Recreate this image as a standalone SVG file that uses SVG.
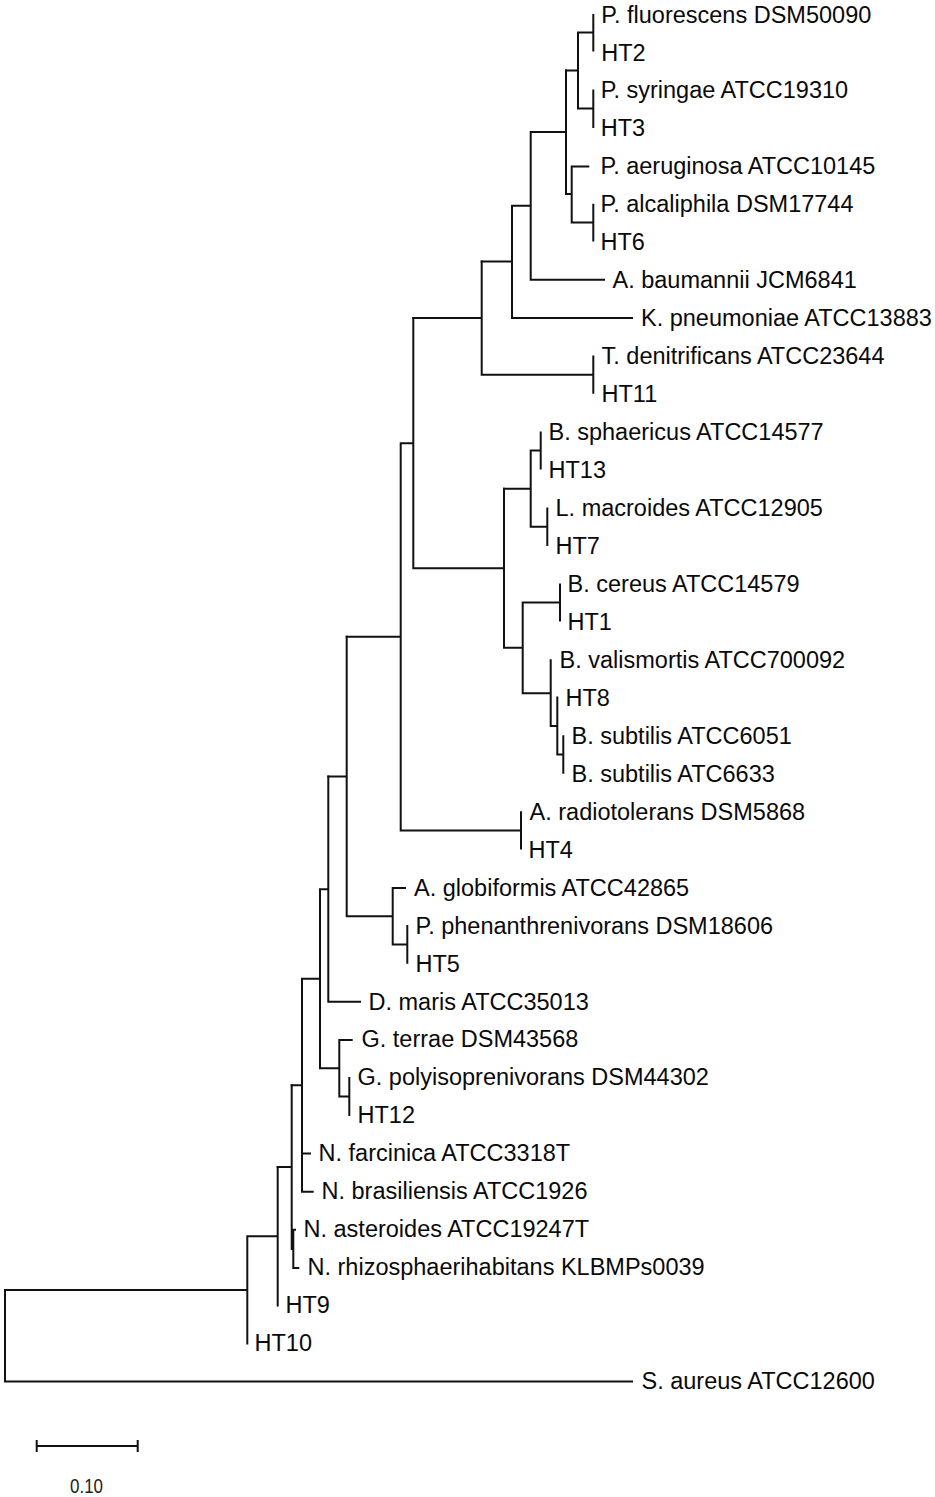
<svg xmlns="http://www.w3.org/2000/svg" width="935" height="1497" viewBox="0 0 935 1497">
<style>
.br{stroke:#111;stroke-width:2;fill:none;stroke-linecap:square}
.lb{font-family:"Liberation Sans",Arial,sans-serif;font-size:23.5px;fill:#0a0a0a}
.sc{font-family:"Liberation Sans",Arial,sans-serif;font-size:20px;fill:#222}
</style>
<rect width="935" height="1497" fill="#fff"/>
<g id="connectors" class="br">
<path d="M593.3,15 V50.5 M578,32.5 H593.3 M593.3,90.5 V127 M578,108.5 H593.3 M578,32.5 V108.5 M566,70.5 H578"/>
<path d="M571.7,166.5 H588.3 M593.3,204.8 V240.5 M571.7,222.5 H593.3 M571.7,166.5 V222.5 M566,194 H571.7 M566,70.5 V194"/>
<path d="M530.7,132 H566 M530.7,279.7 H604 M530.7,132 V279.7 M512,205.8 H530.7 M512,318 H632 M512,205.8 V318 M481.7,261.5 H512"/>
<path d="M593.3,356.6 V392.7 M481.7,374.7 H593.3 M481.7,261.5 V374.7 M413.3,318 H481.7"/>
<path d="M540.7,432.6 V468.5 M530.7,450.6 H540.7 M547.3,508.5 V545 M530.7,526.7 H547.3 M530.7,450.6 V526.7 M504,488.7 H530.7"/>
<path d="M560,584.4 V620.5 M522.7,602.5 H560 M563.3,736.2 V772.7 M557.3,754.5 H563.3 M557.3,697.5 V754.5 M550.7,726 H557.3 M550.7,660.3 V726 M522.7,693.2 H550.7 M522.7,602.5 V693.2 M504,647.8 H522.7 M504,488.7 V647.8"/>
<path d="M413.3,568.3 H504 M413.3,318 V568.3 M400.7,443.2 H413.3 M521,812.2 V848.5 M400.7,830.4 H521 M400.7,443.2 V830.4 M346.7,636.8 H400.7"/>
<path d="M392.7,888 H405 M407.3,926 V962.7 M392.7,944.4 H407.3 M392.7,888 V944.4 M346.7,916.2 H392.7 M346.7,636.8 V916.2 M328.3,776.5 H346.7"/>
<path d="M328.3,1001.8 H360 M328.3,776.5 V1001.8 M320,889.2 H328.3 M339.3,1040 H351.7 M349.3,1078 V1115 M339.3,1096.5 H349.3 M339.3,1040 V1096.5 M320,1068.3 H339.3 M320,889.2 V1068.3"/>
<path d="M302,978.8 H320 M302,1153.6 H310 M302,1191.7 H312.7 M302,978.8 V1191.7 M291.7,1085.2 H302"/>
<path d="M293.3,1229.8 V1268 M293.3,1229.8 H295 M293.3,1268 H298.3 M291.7,1248.9 H293.3 M291.7,1085.2 V1248.9 M277.7,1167 H291.7"/>
<path d="M277.7,1167 V1305.6 M247.3,1236.3 H277.7 M247.3,1236.3 V1343.6 M5,1290 H247.3 M5,1290 V1381.6 M5,1381.6 H632"/>
</g>
<g id="leaf-p-fluorescens"><text class="lb" x="601.3" y="22.5">P. fluorescens DSM50090</text></g>
<g id="leaf-ht2"><text class="lb" x="601.3" y="60.5">HT2</text></g>
<g id="leaf-p-syringae"><text class="lb" x="600.8" y="98.4">P. syringae ATCC19310</text></g>
<g id="leaf-ht3"><text class="lb" x="600.8" y="136.4">HT3</text></g>
<g id="leaf-p-aeruginosa"><text class="lb" x="600.5" y="174.3">P. aeruginosa ATCC10145</text></g>
<g id="leaf-p-alcaliphila"><text class="lb" x="600.5" y="212.3">P. alcaliphila DSM17744</text></g>
<g id="leaf-ht6"><text class="lb" x="600.5" y="250.3">HT6</text></g>
<g id="leaf-a-baumannii"><text class="lb" x="612.5" y="288.2">A. baumannii JCM6841</text></g>
<g id="leaf-k-pneumoniae"><text class="lb" x="641" y="326.2">K. pneumoniae ATCC13883</text></g>
<g id="leaf-t-denitrificans"><text class="lb" x="601.5" y="364.1">T. denitrificans ATCC23644</text></g>
<g id="leaf-ht11"><text class="lb" x="601.5" y="402.1">HT11</text></g>
<g id="leaf-b-sphaericus"><text class="lb" x="548.5" y="440.1">B. sphaericus ATCC14577</text></g>
<g id="leaf-ht13"><text class="lb" x="548.5" y="478">HT13</text></g>
<g id="leaf-l-macroides"><text class="lb" x="555.5" y="516">L. macroides ATCC12905</text></g>
<g id="leaf-ht7"><text class="lb" x="555.5" y="553.9">HT7</text></g>
<g id="leaf-b-cereus"><text class="lb" x="567.5" y="591.9">B. cereus ATCC14579</text></g>
<g id="leaf-ht1"><text class="lb" x="567.5" y="629.9">HT1</text></g>
<g id="leaf-b-valismortis"><text class="lb" x="559.5" y="667.8">B. valismortis ATCC700092</text></g>
<g id="leaf-ht8"><text class="lb" x="565.5" y="705.8">HT8</text></g>
<g id="leaf-b-subtilis-6051"><text class="lb" x="571.5" y="743.7">B. subtilis ATCC6051</text></g>
<g id="leaf-b-subtilis-6633"><text class="lb" x="571.5" y="781.7">B. subtilis ATC6633</text></g>
<g id="leaf-a-radiotolerans"><text class="lb" x="529.5" y="819.7">A. radiotolerans DSM5868</text></g>
<g id="leaf-ht4"><text class="lb" x="528.5" y="857.6">HT4</text></g>
<g id="leaf-a-globiformis"><text class="lb" x="414" y="895.6">A. globiformis ATCC42865</text></g>
<g id="leaf-p-phenanthrenivorans"><text class="lb" x="415.5" y="933.5">P. phenanthrenivorans DSM18606</text></g>
<g id="leaf-ht5"><text class="lb" x="415.5" y="971.5">HT5</text></g>
<g id="leaf-d-maris"><text class="lb" x="368.5" y="1009.5">D. maris ATCC35013</text></g>
<g id="leaf-g-terrae"><text class="lb" x="361.5" y="1047.4">G. terrae DSM43568</text></g>
<g id="leaf-g-polyisoprenivorans"><text class="lb" x="357.5" y="1085.4">G. polyisoprenivorans DSM44302</text></g>
<g id="leaf-ht12"><text class="lb" x="357.5" y="1123.3">HT12</text></g>
<g id="leaf-n-farcinica"><text class="lb" x="318.5" y="1161.3">N. farcinica ATCC3318T</text></g>
<g id="leaf-n-brasiliensis"><text class="lb" x="321.5" y="1199.3">N. brasiliensis ATCC1926</text></g>
<g id="leaf-n-asteroides"><text class="lb" x="303.5" y="1237.2">N. asteroides ATCC19247T</text></g>
<g id="leaf-n-rhizosphaerihabitans"><text class="lb" x="307.5" y="1275.2">N. rhizosphaerihabitans KLBMPs0039</text></g>
<g id="leaf-ht9"><text class="lb" x="285.5" y="1313.1">HT9</text></g>
<g id="leaf-ht10"><text class="lb" x="254.5" y="1351.1">HT10</text></g>
<g id="leaf-s-aureus"><text class="lb" x="641.5" y="1389.1">S. aureus ATCC12600</text></g>
<g id="scale-bar">
<path class="br" d="M36.7,1446 H137.7 M36.7,1440 V1452 M137.7,1440 V1452" style="stroke-linecap:butt"/>
<text class="sc" x="86.5" y="1492.5" text-anchor="middle" textLength="33" lengthAdjust="spacingAndGlyphs">0.10</text>
</g>
</svg>
